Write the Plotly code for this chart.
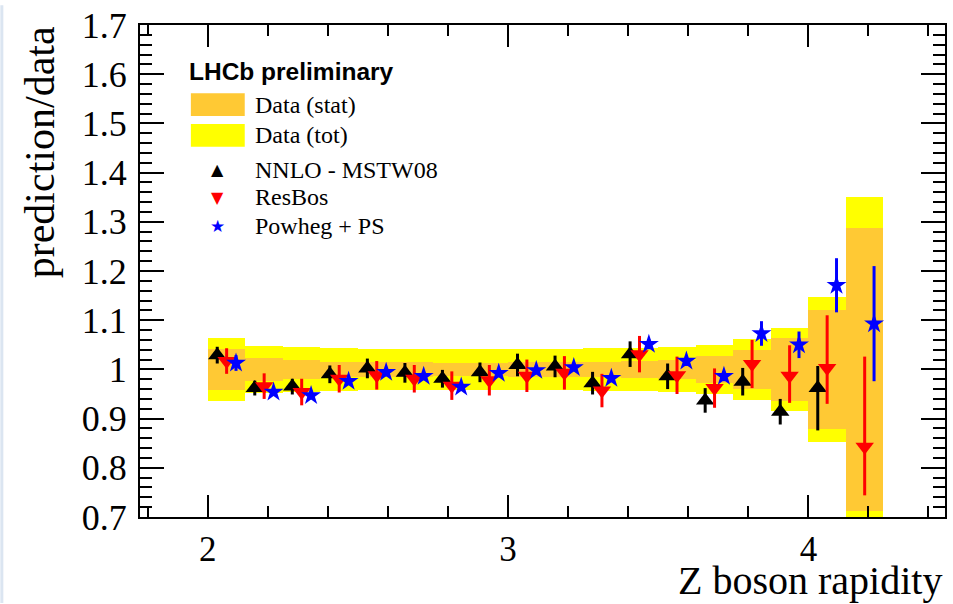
import plotly.graph_objects as go

# ---------------- data ----------------
bin_lo = [2.0, 2.125, 2.25, 2.375, 2.5, 2.625, 2.75, 2.875, 3.0,
          3.125, 3.25, 3.375, 3.5, 3.625, 3.75, 3.875, 4.0, 4.125]
bin_w = 0.125

# data uncertainty bands (relative, around 1)
data_tot = [0.064, 0.048, 0.046, 0.043, 0.042, 0.042, 0.041, 0.041, 0.042,
            0.042, 0.043, 0.043, 0.046, 0.050, 0.062, 0.084, 0.147, 0.351]
data_stat = [0.042, 0.024, 0.019, 0.016, 0.015, 0.015, 0.014, 0.014, 0.015,
             0.015, 0.016, 0.017, 0.020, 0.028, 0.039, 0.064, 0.121, 0.288]

# NNLO - MSTW08
nnlo = [1.029, 0.962, 0.965, 0.990, 1.002, 0.993, 0.981, 0.994, 1.009,
        1.006, 0.972, 1.031, 0.986, 0.937, 0.975, 0.914, 0.962, None]
nnlo_up = [0.017, 0.015, 0.016, 0.018, 0.020, 0.020, 0.018, 0.020, 0.023,
           0.022, 0.023, 0.026, 0.026, 0.025, 0.028, 0.026, 0.045, 0.0]
nnlo_dn = [0.017, 0.015, 0.016, 0.018, 0.020, 0.020, 0.018, 0.020, 0.023,
           0.022, 0.023, 0.026, 0.026, 0.025, 0.028, 0.026, 0.086, 0.0]

# ResBos
resbos = [1.017, 0.966, 0.954, 0.981, 0.988, 0.981, 0.967, 0.978, 0.987,
          0.993, 0.957, 1.031, 0.988, 0.962, 1.011, 0.987, 1.003, 0.843]
resbos_up = [0.026, 0.026, 0.027, 0.028, 0.029, 0.028, 0.029, 0.031, 0.033,
             0.034, 0.034, 0.037, 0.038, 0.040, 0.049, 0.062, 0.107, 0.183]
resbos_dn = [0.026, 0.026, 0.027, 0.028, 0.029, 0.028, 0.029, 0.031, 0.033,
             0.034, 0.034, 0.037, 0.038, 0.040, 0.049, 0.055, 0.073, 0.099]

# Powheg + PS
powheg = [1.013, 0.954, 0.947, 0.976, 0.994, 0.986, 0.964, 0.992, 0.998,
          1.004, 0.982, 1.051, 1.017, 0.986, 1.073, 1.050, 1.171, 1.093]
powheg_err = [0.016, 0.008, 0.008, 0.008, 0.008, 0.008, 0.008, 0.008, 0.008,
              0.008, 0.008, 0.010, 0.010, 0.010, 0.025, 0.027, 0.055, 0.117]

x_ticks = [2, 3, 4]
x_title = "Z boson rapidity"
y_title = "prediction/data"
legend_title = "LHCb preliminary"
legend_labels = ["Data (stat)", "Data (tot)", "NNLO - MSTW08", "ResBos", "Powheg + PS"]

# ---------------- styles ----------------
ORANGE = "#ffc934"
YELLOW = "#ffff00"
SERIF = "Liberation Serif, Times New Roman, serif"
SANS = "Liberation Sans, Arial, sans-serif"

W, H = 953, 604
L, R, T, B = 140, 6, 20, 87
PW, PH = W - L - R, H - T - B


def px(xp):
    return (xp - L) / PW


def py(yp):
    return 1 - (yp - T) / PH


centers = [lo + bin_w / 2 for lo in bin_lo]
x_nnlo = [c - bin_w / 4 for c in centers]
x_powheg = [c + bin_w / 4 for c in centers]

fig = go.Figure()

fig.add_trace(go.Bar(
    x=centers, y=[2 * t for t in data_tot], base=[1 - t for t in data_tot],
    width=bin_w, marker=dict(color=YELLOW, line=dict(width=0)),
    showlegend=False, hoverinfo="skip"))
fig.add_trace(go.Bar(
    x=centers, y=[2 * s for s in data_stat], base=[1 - s for s in data_stat],
    width=bin_w, marker=dict(color=ORANGE, line=dict(width=0)),
    showlegend=False, hoverinfo="skip"))

fig.add_trace(go.Scatter(
    x=x_nnlo, y=nnlo, mode="markers",
    marker=dict(symbol="triangle-up", size=16, color="black", line=dict(width=0)),
    error_y=dict(type="data", symmetric=False, array=nnlo_up, arrayminus=nnlo_dn,
                 color="black", thickness=3, width=0),
    showlegend=False))
fig.add_trace(go.Scatter(
    x=centers, y=resbos, mode="markers",
    marker=dict(symbol="triangle-down", size=16, color="#ff0000", line=dict(width=0)),
    error_y=dict(type="data", symmetric=False, array=resbos_up, arrayminus=resbos_dn,
                 color="#ff0000", thickness=3, width=0),
    showlegend=False))
fig.add_trace(go.Scatter(
    x=x_powheg, y=powheg, mode="markers",
    marker=dict(symbol="star", size=15, color="#0000ff", line=dict(width=0)),
    error_y=dict(type="data", array=powheg_err, color="#0000ff", thickness=3, width=0),
    showlegend=False))

shapes = [
    # left light-blue page strip
    dict(type="rect", xref="paper", yref="paper", x0=px(0), x1=px(3), y0=py(H), y1=py(0),
         fillcolor="#dbe5f1", line=dict(width=0), layer="below"),
    # legend boxes
    dict(type="rect", xref="paper", yref="paper", x0=px(191), x1=px(245), y0=py(112), y1=py(89),
         fillcolor=ORANGE, line=dict(width=0)),
    dict(type="rect", xref="paper", yref="paper", x0=px(191), x1=px(245), y0=py(143), y1=py(120),
         fillcolor=YELLOW, line=dict(width=0)),
]

annotations = [
    dict(text="<b>" + legend_title + "</b>", xref="paper", yref="paper", x=px(187), y=py(67),
         xanchor="left", yanchor="middle", showarrow=False,
         font=dict(family=SANS, size=24.5, color="black")),
]
leg_y = [101, 131, 166, 194, 223]
for lab, yy in zip(legend_labels, leg_y):
    annotations.append(dict(text=lab, xref="paper", yref="paper", x=px(253), y=py(yy),
                            xanchor="left", yanchor="middle", showarrow=False,
                            font=dict(family=SERIF, size=24, color="black")))
sym = [("▲", "black", 166, 16), ("▼", "#ff0000", 194, 16), ("★", "#0000ff", 223, 17)]
for s, c, yy, sz in sym:
    annotations.append(dict(text=s, xref="paper", yref="paper", x=px(218), y=py(yy),
                            xanchor="center", yanchor="middle", showarrow=False,
                            font=dict(family="DejaVu Sans", size=sz, color=c)))

annotations.append(dict(text=x_title, xref="paper", yref="paper", x=px(946), y=py(581),
                        xanchor="right", yanchor="middle", showarrow=False,
                        font=dict(family=SERIF, size=40, color="black")))
annotations.append(dict(text=y_title, xref="paper", yref="paper", x=px(40), y=py(19),
                        xanchor="center", yanchor="top", textangle=-90, showarrow=False,
                        font=dict(family=SERIF, size=42, color="black")))

fig.update_layout(
    width=W, height=H,
    margin=dict(l=L, r=R, t=T, b=B, pad=0),
    paper_bgcolor="white", plot_bgcolor="white",
    barmode="overlay", bargap=0,
    shapes=shapes, annotations=annotations,
    showlegend=False,
)
fig.update_xaxes(
    range=[1.774, 4.455], tickvals=x_ticks, ticktext=[str(v) for v in x_ticks],
    ticks="inside", ticklen=22, tickwidth=2, tickcolor="black",
    minor=dict(dtick=0.2, tick0=0, ticks="inside", ticklen=11, tickwidth=2, tickcolor="black"),
    showline=True, linewidth=2, linecolor="black", mirror="allticks",
    showgrid=False, zeroline=False,
    tickfont=dict(family=SERIF, size=35, color="black"), ticklabelstandoff=0,
)
fig.update_yaxes(
    range=[0.7, 1.7], dtick=0.1, tick0=0.7,
    ticks="inside", ticklen=24, tickwidth=2, tickcolor="black",
    minor=dict(dtick=0.02, tick0=0.7, ticks="inside", ticklen=12, tickwidth=2, tickcolor="black"),
    showline=True, linewidth=2, linecolor="black", mirror="allticks",
    showgrid=False, zeroline=False,
    tickformat="~g",
    tickfont=dict(family=SERIF, size=36, color="black"), ticklabelstandoff=4,
)

fig.write_html("out.html")
